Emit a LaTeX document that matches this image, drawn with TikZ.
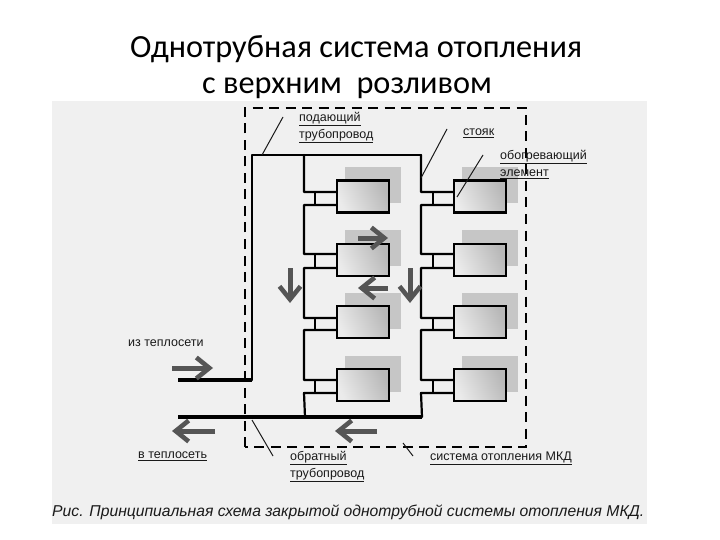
\documentclass[tikz,border=0pt]{standalone}
\usepackage{fontspec}
\setmainfont{Liberation Sans}
\newfontfamily\titlefont{Carlito}
\usetikzlibrary{arrows.meta,calc}
\definecolor{panel}{HTML}{F0F0F0}
\definecolor{shade}{HTML}{C6C6C6}
\definecolor{flow}{HTML}{555555}
\definecolor{ink}{HTML}{1A1A1A}
\tikzset{
  x=1pt,y=-1pt,
  heater/.style={draw=black,line width=2.4pt,minimum width=52pt,minimum height=32pt,inner sep=0pt,shading=axis,left color=white!92!black,right color=white!72!black,shading angle=115},
  shadowbox/.style={fill=shade,draw=none,minimum width=56pt,minimum height=36pt,inner sep=0pt},
  pipe/.style={draw=black,line width=2.2pt,line cap=round,line join=round},
  mainpipe/.style={draw=black,line width=4.2pt,line cap=butt,line join=round},
  bypass/.style={draw=black,line width=1.4pt},
  leader/.style={draw=ink,line width=1pt},
  flowarrow/.style={draw=flow,line width=5pt,-{Straight Barb[length=13pt,width=21pt,line width=4.6pt]}},
  label/.style={font=\fontsize{12.5}{14}\selectfont,text=ink,inner sep=0pt,anchor=west},
  titletext/.style={font=\titlefont\fontsize{32.3}{36}\selectfont,text=black,inner sep=0pt,anchor=west},
}
\begin{document}
\begin{tikzpicture}
\useasboundingbox (0,0) rectangle (720,540);
\fill[panel] (52,101) rectangle (647,524);

% titles
\node[titletext] (t1) at (130,49) {Однотрубная система отопления};
\node[titletext] (t2) at (202,88) {с верхним\ \ розливом};

% radiator shadows
\foreach \n/\x/\y in {a/373/185.5,b/373/248,c/373/311,d/373/373.5,e/490/185.5,f/490/248,g/490/311,h/490/373.5}
  \node[shadowbox] (s\n) at (\x,\y) {};

% named points
\coordinate (inA) at (178,380);
\coordinate (inB) at (252,380);
\coordinate (topL) at (252,155);
\coordinate (topM) at (304,155);
\coordinate (topR) at (421,155);
\coordinate (retA) at (178,417);
\coordinate (retM) at (305,417);
\coordinate (retR) at (422,417);

% risers and mains
\draw[pipe] (inB) -- (topL) -- (topR);
\draw[mainpipe] (inA) -- (inB);
\draw[mainpipe] (retA) -- (retR);
\foreach \lx/\bx/\hub/\top/\bot/\side in {304/315/336/topM/retM/L,421/433/453/topR/retR/R}{
  \draw[pipe] (\top)
    -- (\lx,192) -- (\hub,192)  (\hub,205) -- (\lx,205)
    -- (\lx,254) -- (\hub,254)  (\hub,268) -- (\lx,268)
    -- (\lx,318) -- (\hub,318)  (\hub,330) -- (\lx,330)
    -- (\lx,380) -- (\hub,380)  (\hub,393) -- (\lx,393)
    -- (\bot);
  \foreach \ya/\yb in {192/205,254/268,318/330,380/393}
    \draw[bypass] (\bx,\ya) -- (\bx,\yb);
}

% radiators
\node[heater] (h1) at (363,196.5) {};
\node[heater] (h2) at (363,260) {};
\node[heater] (h3) at (363,322) {};
\node[heater] (h4) at (363,385) {};
\node[heater] (h5) at (480,196.5) {};
\node[heater] (h6) at (480,260) {};
\node[heater] (h7) at (480,322) {};
\node[heater] (h8) at (480,385) {};

% boundary
\draw[black,line width=2.4pt,dash pattern=on 10pt off 6.5pt] (245,447) -- (245,108) -- (526,108) -- (526,447) -- cycle;

% flow arrows
\coordinate (f1a) at (358,238); \coordinate (f1b) at (388,238);
\coordinate (f2a) at (388,288); \coordinate (f2b) at (358,288);
\coordinate (f3a) at (290,268); \coordinate (f3b) at (290,303);
\coordinate (f4a) at (410,268); \coordinate (f4b) at (410,303);
\coordinate (f5a) at (172,368); \coordinate (f5b) at (213,368);
\coordinate (f6a) at (215,431); \coordinate (f6b) at (172,431);
\coordinate (f7a) at (377,431); \coordinate (f7b) at (335,431);
\foreach \p in {1,...,7}
  \draw[flowarrow] (f\p a) -- (f\p b);

% labels
\node[label] (l1) at (299,119) {\underline{подающий}};
\node[label] (l2) at (299,136) {\underline{трубопровод}};
\node[label] (l3) at (463,133) {\underline{стояк}};
\node[label] (l4) at (500,157) {\underline{обогревающий}};
\node[label] (l5) at (500,174) {\underline{элемент}};
\node[label] (l6) at (128,343) {из теплосети};
\node[label] (l7) at (138,456) {\underline{в теплосеть}};
\node[label] (l8) at (290,458) {\underline{обратный}};
\node[label] (l9) at (290,475) {\underline{трубопровод}};
\node[label] (l10) at (430,458) {\underline{система отопления МКД}};
\node[font=\itshape\fontsize{15.7}{18}\selectfont,text=ink,inner sep=0pt,anchor=west] (cap) at (52,512) {Рис. Принципиальная схема закрытой однотрубной системы отопления МКД.};

% leaders
\coordinate (la) at (283,117); \coordinate (lb) at (262,155);
\coordinate (lc) at (447,129); \coordinate (ld) at (421,178);
\coordinate (le) at (483,155); \coordinate (lf) at (457,197);
\coordinate (lg) at (252,420); \coordinate (lh) at (273,456);
\coordinate (li) at (403,443); \coordinate (lj) at (413,456);
\draw[leader] (la) -- (lb);
\draw[leader] (lc) -- (ld);
\draw[leader] (le) -- (lf);
\draw[leader] (lg) -- (lh);
\draw[leader] (li) -- (lj);
\end{tikzpicture}
\end{document}
